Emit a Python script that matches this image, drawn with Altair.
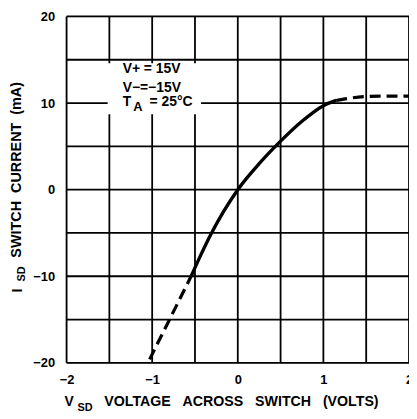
import altair as alt
import pandas as pd

# Curve data (V_SD in volts, I_SD in mA)
solid_v = [-0.545, -0.43, -0.317, -0.165, 0.0, 0.25, 0.5, 0.75, 1.0, 1.15]
solid_i = [-10.0, -7.5, -5.2, -2.5, 0.0, 3.0, 5.6, 7.9, 9.7, 10.3]
dash_low_v = [-1.03, -0.545]
dash_low_i = [-19.6, -10.0]
dash_high_v = [1.15, 1.3, 1.5, 1.7, 2.0]
dash_high_i = [10.3, 10.55, 10.75, 10.8, 10.8]

x_grid = [-2, -1.5, -1, -0.5, 0, 0.5, 1, 1.5, 2]
y_grid = [-20, -15, -10, -5, 0, 5, 10, 15, 20]

NB = "\u00a0"
ann_line1 = "V+" + NB + "=" + NB + "15V"
ann_line2 = "V\u2212=\u221215V"
FONT = "Liberation Sans"

solid = pd.DataFrame({"v": solid_v, "i": solid_i})
dlow = pd.DataFrame({"v": dash_low_v, "i": dash_low_i})
dhigh = pd.DataFrame({"v": dash_high_v, "i": dash_high_i})

xs = alt.Scale(domain=[-2, 2], nice=False, zero=False)
ys = alt.Scale(domain=[-20, 20], nice=False, zero=False)

common_ax = dict(grid=False, ticks=False, domain=False, title=None,
                 labelFont=FONT, labelFontWeight="bold", labelFontSize=13,
                 labelColor="black", labelFlush=False)
xax = alt.Axis(values=x_grid,
               labelExpr="datum.value % 1 == 0 ? format(datum.value, 'd') : ''",
               labelPadding=11, **common_ax)
yax = alt.Axis(values=y_grid,
               labelExpr="datum.value % 10 == 0 ? format(datum.value, 'd') : ''",
               labelPadding=12, **common_ax)

# grid lines drawn from the grid arrays
vgrid = alt.Chart(pd.DataFrame({"g": x_grid})).mark_rule(color="black", strokeWidth=1.8).encode(
    x=alt.X("g:Q", scale=xs, axis=xax))
hgrid = alt.Chart(pd.DataFrame({"g": y_grid})).mark_rule(color="black", strokeWidth=1.8).encode(
    y=alt.Y("g:Q", scale=ys, axis=yax))

base_solid = alt.Chart(solid).mark_line(color="black", strokeWidth=3.4,
                                        interpolate="monotone").encode(
    x=alt.X("v:Q", scale=xs),
    y=alt.Y("i:Q", scale=ys),
)
low = alt.Chart(dlow).mark_line(color="black", strokeWidth=3.2, strokeDash=[11, 6]).encode(
    x=alt.X("v:Q", scale=xs), y=alt.Y("i:Q", scale=ys))
high = alt.Chart(dhigh).mark_line(color="black", strokeWidth=3.2, strokeDash=[11, 6],
                                  interpolate="monotone").encode(
    x=alt.X("v:Q", scale=xs), y=alt.Y("i:Q", scale=ys))

# white box behind the annotation
box_df = pd.DataFrame({"x1": [-1.52], "x2": [-0.43], "y1": [8.7], "y2": [14.6]})
box = alt.Chart(box_df).mark_rect(color="white").encode(
    x=alt.X("x1:Q", scale=xs), x2="x2:Q", y=alt.Y("y1:Q", scale=ys), y2="y2:Q")


def dtext(txt, x, y, size=14):
    return alt.Chart(pd.DataFrame({"x": [x], "y": [y]})).mark_text(
        text=txt, font=FONT, fontWeight="bold", fontSize=size, align="left",
        baseline="middle", color="black").encode(
        x=alt.X("x:Q", scale=xs), y=alt.Y("y:Q", scale=ys))


one = pd.DataFrame({"a": [0]})


def ptext(txt, x, y, size=13, angle=0):
    return alt.Chart(one).mark_text(text=txt, font=FONT, fontWeight="bold", fontSize=size,
                                    align="left", baseline="alphabetic", angle=angle,
                                    color="black").encode(x=alt.value(x), y=alt.value(y))


ann1 = dtext(ann_line1, -1.345, 13.9)
ann2 = dtext(ann_line2, -1.345, 11.75)
ta_T = dtext("T", -1.345, 10.1)
ta_A = dtext("A", -1.22, 9.5, 13)
ta_rest = dtext("=" + NB + "25\u00b0C", -1.03, 10.1)

# axis titles with subscripts
SP = NB + NB + NB
xt_V = ptext("V", -2, 392, 14)
xt_SD = ptext("SD", 11, 397, 11)
xt_main = ptext("VOLTAGE" + SP + "ACROSS" + SP + "SWITCH" + SP + "(VOLTS)", 38, 392, 14.3)

yt_I = ptext("I", -45, 278, 14, angle=270)
yt_SD = ptext("SD", -42, 267, 11, angle=270)
yt_main = ptext("SWITCH" + NB + NB + "CURRENT" + NB + NB + "(mA)", -46, 243, 14.5, angle=270)

chart = alt.layer(
    vgrid, hgrid, box, base_solid, low, high, ann1, ann2, ta_T, ta_A, ta_rest,
    xt_V, xt_SD, xt_main, yt_I, yt_SD, yt_main,
).properties(
    width=345, height=349,
    autosize=alt.AutoSizeParams(type="none"),
    padding={"left": 59, "top": 7, "right": 0, "bottom": 50},
).configure_view(stroke="black", strokeWidth=3).configure(background="white")

chart.save("out.html", embed_options={"renderer": "svg", "actions": False})
